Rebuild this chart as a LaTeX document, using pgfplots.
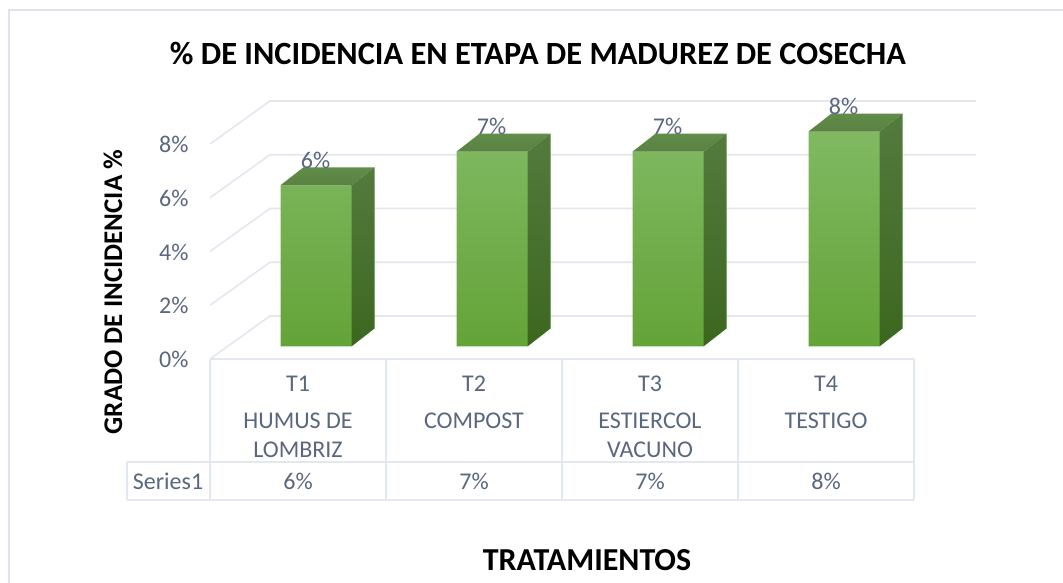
\documentclass[border=0pt]{standalone}
\usepackage{fontspec}
\setmainfont{Carlito}
\usepackage{pgfplots}
\pgfplotsset{compat=1.18}
\definecolor{txt}{HTML}{5A6780}
\definecolor{gridc}{HTML}{E3E7EF}
\definecolor{frameC}{HTML}{DFE4EC}
\definecolor{ft}{HTML}{80B962}
\definecolor{fm}{HTML}{70AE42}
\definecolor{fb}{HTML}{64A338}
\definecolor{st}{HTML}{537B3E}
\definecolor{sb}{HTML}{3C6720}
\definecolor{tt}{HTML}{618C49}
\definecolor{tb}{HTML}{5A8242}
\newcommand{\lab}{\fontsize{24bp}{29bp}\selectfont}
\begin{document}
\begin{tikzpicture}[x=1bp,y=1bp]
\useasboundingbox (-210,-224) rectangle (853,359);
\fill[white] (-210,-224) rectangle (853,359);
\draw[frameC,line width=2bp] (-201,-224) -- (-201,349) -- (853,349);
\begin{axis}[
  at={(0,0)},anchor=south west,
  scale only axis,width=704bp,height=215bp,
  xmin=-0.5,xmax=3.5,ymin=0,ymax=8,
  clip=false,
  /pgf/number format/assume math mode=true,
  axis line style={draw=none},
  tick style={draw=none},
  xtick={0,1,2,3},
  xticklabels={{T1\\[8bp]HUMUS DE\\LOMBRIZ},{T2\\[8bp]COMPOST},{T3\\[8bp]ESTIERCOL\\VACUNO},{T4\\[8bp]TESTIGO}},
  xticklabel style={anchor=north,align=center,font=\lab,text=txt,yshift=-16.5bp,inner sep=0pt},
  ytick={0,2,4,6,8},
  yticklabels={0\%,2\%,4\%,6\%,8\%},
  yticklabel style={font=\lab,text=txt,xshift=-18bp,yshift=-0.5bp},
]
% walls and gridlines
\addplot[gridc,line width=1.6bp] coordinates {(-0.5,0)(-0.159,1.6)(3.852,1.6)};
\addplot[gridc,line width=1.6bp] coordinates {(-0.5,2)(-0.159,3.6)(3.852,3.6)};
\addplot[gridc,line width=1.6bp] coordinates {(-0.5,4)(-0.159,5.6)(3.852,5.6)};
\addplot[gridc,line width=1.6bp] coordinates {(-0.5,6)(-0.159,7.6)(3.852,7.6)};
\addplot[gridc,line width=1.6bp] coordinates {(-0.5,8)(-0.159,9.6)(3.852,9.6)};
% side faces
\addplot[draw=none,yshift=-0.5bp,shade,top color=st,bottom color=sb] coordinates {(0.304,0.4837)(0.4347,1.1535)(0.4347,7.1535)(0.304,6.4837)} -- cycle;
\addplot[draw=none,yshift=-0.5bp,shade,top color=st,bottom color=sb] coordinates {(1.304,0.4837)(1.4347,1.1535)(1.4347,8.4035)(1.304,7.7337)} -- cycle;
\addplot[draw=none,yshift=-0.5bp,shade,top color=st,bottom color=sb] coordinates {(2.304,0.4837)(2.4347,1.1535)(2.4347,8.4035)(2.304,7.7337)} -- cycle;
\addplot[draw=none,yshift=-0.5bp,shade,top color=st,bottom color=sb] coordinates {(3.304,0.4837)(3.4347,1.1535)(3.4347,9.1535)(3.304,8.4837)} -- cycle;
% front faces
\addplot[ybar,bar width=0.4034,xshift=18bp,yshift=12.5bp,draw=none,
  shade,top color=ft,middle color=fm,bottom color=fb,
  nodes near coords={\pgfmathprintnumber[fixed,precision=0,assume math mode=true]{\pgfplotspointmeta}\%},
  every node near coord/.style={anchor=center,yshift=25bp,xshift=-0.5bp,font=\lab,text=txt,inner sep=0pt}]
  coordinates {(0,6)(1,7.25)(2,7.25)(3,8)};
% top faces
\addplot[draw=none,yshift=-0.5bp,shade,top color=tt,bottom color=tb] coordinates {(-0.0994,6.4837)(0.304,6.4837)(0.4347,7.1535)(0.0313,7.1535)} -- cycle;
\addplot[draw=none,yshift=-0.5bp,shade,top color=tt,bottom color=tb] coordinates {(0.9006,7.7337)(1.304,7.7337)(1.4347,8.4035)(1.0313,8.4035)} -- cycle;
\addplot[draw=none,yshift=-0.5bp,shade,top color=tt,bottom color=tb] coordinates {(1.9006,7.7337)(2.304,7.7337)(2.4347,8.4035)(2.0313,8.4035)} -- cycle;
\addplot[draw=none,yshift=-0.5bp,shade,top color=tt,bottom color=tb] coordinates {(2.9006,8.4837)(3.304,8.4837)(3.4347,9.1535)(3.0313,9.1535)} -- cycle;
\end{axis}
% data table
\draw[gridc,line width=2bp] (0,0) -- (704,0);
\draw[gridc,line width=2bp] (-83,-103) -- (704,-103);
\draw[gridc,line width=2bp] (-83,-141) -- (704,-141);
\draw[gridc,line width=2bp] (-83,-103) -- (-83,-141);
\foreach \x in {0,176,352,528,704} \draw[gridc,line width=2bp] (\x,0) -- (\x,-141);
\node[font=\lab,text=txt,inner sep=0pt] at (-42,-122) {Series1};
\node[font=\lab,text=txt,inner sep=0pt] at (88,-122) {6\%};
\node[font=\lab,text=txt,inner sep=0pt] at (264,-122) {7\%};
\node[font=\lab,text=txt,inner sep=0pt] at (440,-122) {7\%};
\node[font=\lab,text=txt,inner sep=0pt] at (616,-122) {8\%};
% titles
\node[font=\fontsize{32.4bp}{36bp}\selectfont\bfseries,inner sep=0pt] at (328,306) {\% DE INCIDENCIA EN ETAPA DE MADUREZ DE COSECHA};
\node[font=\fontsize{27bp}{30bp}\selectfont\bfseries,inner sep=0pt,rotate=90] at (-97,67) {GRADO DE INCIDENCIA \%};
\node[font=\fontsize{32bp}{36bp}\selectfont\bfseries,inner sep=0pt] at (377,-201) {TRATAMIENTOS};
\end{tikzpicture}
\end{document}
